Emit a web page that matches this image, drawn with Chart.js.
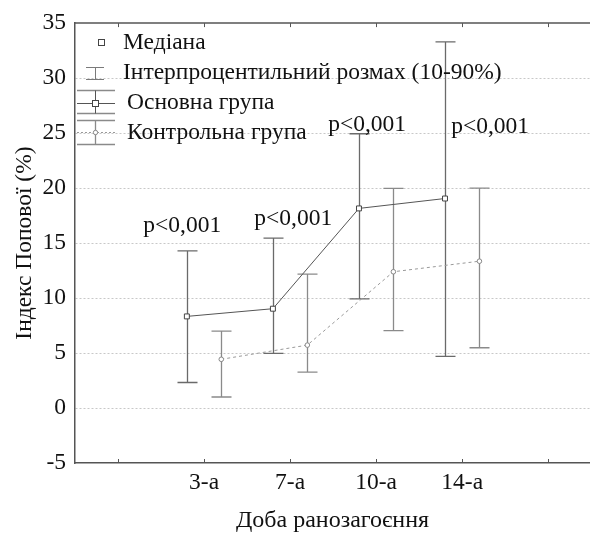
<!DOCTYPE html>
<html lang="uk">
<head>
<meta charset="UTF-8">
<title>Індекс Попової</title>
<script src="https://cdn.jsdelivr.net/npm/chart.js"></script>
<style>
  html, body { margin: 0; padding: 0; background: #fff; overflow: hidden; }
  #wrap { width: 590px; height: 535px; }
</style>
</head>
<body>
<div id="wrap"><canvas id="chart" width="590" height="535"></canvas></div>
<script>
// categories (days) and their positions on the x axis
const categories = ['3-а', '7-а', '10-а', '14-а'];
const catPos = [2, 3, 4, 5];
const xTickValues = [1, 2, 3, 4, 5, 6];
const groupShift = 0.2;

// Основна група: median and 10-90% range
const mainMedian = [8.33, 9.03, 18.15, 19.05];
const mainLow = [2.32, 4.97, 9.93, 4.7];
const mainHigh = [14.28, 15.45, 24.94, 33.3];

// Контрольна група
const ctrlMedian = [4.43, 5.72, 12.39, 13.35];
const ctrlLow = [1.0, 3.26, 7.04, 5.48];
const ctrlHigh = [7.0, 12.18, 19.98, 20.0];

// p-value labels (x, y of text start / baseline in data units)
const pText = ['p<0,001', 'p<0,001', 'p<0,001', 'p<0,001'];
const pX = [1.294, 2.584, 3.443, 4.872];
const pY = [15.99, 16.65, 25.2, 25.05];

const FONT = 'Liberation Serif, Times New Roman, serif';
const FSIZE = 23.5;

const mainPts = catPos.map((c, i) => ({ x: c - groupShift, y: mainMedian[i] }));
const ctrlPts = catPos.map((c, i) => ({ x: c + groupShift, y: ctrlMedian[i] }));

const whiskers = {
  id: 'whiskers',
  beforeDatasetsDraw(chart) {
    const { ctx, scales: { x, y } } = chart;
    const sets = [
      { pts: mainPts, lo: mainLow, hi: mainHigh, color: '#6a6a6a' },
      { pts: ctrlPts, lo: ctrlLow, hi: ctrlHigh, color: '#8a8a8a' }
    ];
    ctx.save();
    ctx.lineWidth = 1.3;
    sets.forEach(s => {
      ctx.strokeStyle = s.color;
      s.pts.forEach((p, i) => {
        const px = Math.round(x.getPixelForValue(p.x)) + 0.5;
        const top = y.getPixelForValue(s.hi[i]);
        const bot = y.getPixelForValue(s.lo[i]);
        ctx.beginPath();
        ctx.moveTo(px, top); ctx.lineTo(px, bot);
        ctx.moveTo(px - 10, top); ctx.lineTo(px + 10, top);
        ctx.moveTo(px - 10, bot); ctx.lineTo(px + 10, bot);
        ctx.stroke();
      });
    });
    ctx.restore();
  },
  afterDraw(chart) {
    const { ctx, chartArea: a, scales: { x, y } } = chart;
    ctx.save();
    // top frame line and tick marks
    ctx.strokeStyle = '#555';
    ctx.lineWidth = 1.5;
    ctx.beginPath();
    ctx.moveTo(a.left, a.top); ctx.lineTo(a.right, a.top);
    ctx.stroke();
    ctx.lineWidth = 1;
    ctx.beginPath();
    xTickValues.forEach(v => {
      const px = Math.round(x.getPixelForValue(v)) + 0.5;
      ctx.moveTo(px, a.top); ctx.lineTo(px, a.top + 4);
      ctx.moveTo(px, a.bottom); ctx.lineTo(px, a.bottom - 4);
    });
    ctx.stroke();

    // p labels
    ctx.fillStyle = '#111';
    ctx.font = FSIZE + 'px ' + FONT;
    ctx.textAlign = 'left';
    ctx.textBaseline = 'alphabetic';
    pText.forEach((t, i) => {
      ctx.fillText(t, x.getPixelForValue(pX[i]), y.getPixelForValue(pY[i]));
    });

    // legend
    ctx.textBaseline = 'middle';
    ctx.fillText('Медіана', 123, 43);
    ctx.fillText('Інтерпроцентильний розмах (10-90%)', 123, 73);
    ctx.fillText('Основна група', 127, 103);
    ctx.fillText('Контрольна група', 127, 133);

    ctx.lineWidth = 1;
    ctx.strokeStyle = '#444';
    ctx.fillStyle = '#fff';
    ctx.fillRect(98.5, 39.5, 6, 6);
    ctx.strokeRect(98.5, 39.5, 6, 6);

    ctx.strokeStyle = '#7a7a7a';
    ctx.beginPath();
    ctx.moveTo(95.5, 67); ctx.lineTo(95.5, 79);
    ctx.moveTo(86, 67.5); ctx.lineTo(104, 67.5);
    ctx.moveTo(86, 79.5); ctx.lineTo(104, 79.5);
    ctx.stroke();

    // main group icon
    ctx.strokeStyle = '#8a8a8a';
    ctx.lineWidth = 1.3;
    ctx.beginPath();
    ctx.moveTo(77, 90.5); ctx.lineTo(115, 90.5);
    ctx.moveTo(77, 113.5); ctx.lineTo(115, 113.5);
    ctx.stroke();
    ctx.strokeStyle = '#555';
    ctx.lineWidth = 1;
    ctx.beginPath();
    ctx.moveTo(95.5, 90.5); ctx.lineTo(95.5, 113.5);
    ctx.moveTo(77, 103.5); ctx.lineTo(115, 103.5);
    ctx.stroke();
    ctx.fillStyle = '#fff';
    ctx.fillRect(92.5, 100.5, 6, 6);
    ctx.strokeStyle = '#444';
    ctx.strokeRect(92.5, 100.5, 6, 6);

    // control group icon
    ctx.strokeStyle = '#8a8a8a';
    ctx.lineWidth = 1.3;
    ctx.beginPath();
    ctx.moveTo(77, 120.5); ctx.lineTo(115, 120.5);
    ctx.moveTo(77, 144.5); ctx.lineTo(115, 144.5);
    ctx.moveTo(95.5, 120.5); ctx.lineTo(95.5, 144.5);
    ctx.stroke();
    ctx.lineWidth = 1;
    ctx.strokeStyle = '#999';
    ctx.setLineDash([2, 2]);
    ctx.beginPath();
    ctx.moveTo(77, 132.5); ctx.lineTo(115, 132.5);
    ctx.stroke();
    ctx.setLineDash([]);
    ctx.beginPath();
    ctx.arc(95.5, 132.5, 2.2, 0, Math.PI * 2);
    ctx.fillStyle = '#fff';
    ctx.fill();
    ctx.strokeStyle = '#888';
    ctx.stroke();
    ctx.restore();
  }
};

new Chart(document.getElementById('chart'), {
  type: 'line',
  data: {
    datasets: [
      {
        label: 'Основна група',
        data: mainPts,
        borderColor: '#555',
        borderWidth: 1,
        pointStyle: 'rect',
        pointRadius: 3.5,
        pointBackgroundColor: '#fff',
        pointBorderColor: '#444',
        pointBorderWidth: 1,
        tension: 0
      },
      {
        label: 'Контрольна група',
        data: ctrlPts,
        borderColor: '#999',
        borderWidth: 1,
        borderDash: [3, 3],
        pointStyle: 'circle',
        pointRadius: 2.3,
        pointBackgroundColor: '#fff',
        pointBorderColor: '#888',
        pointBorderWidth: 1,
        tension: 0
      }
    ]
  },
  options: {
    responsive: false,
    animation: false,
    layout: { autoPadding: false, padding: { top: 19, right: 0, left: 0, bottom: 0 } },
    plugins: { legend: { display: false }, tooltip: { enabled: false } },
    scales: {
      x: {
        type: 'linear',
        min: 0.5,
        max: 6.485,
        afterFit: s => { s.height = 72; s.paddingLeft = 0; s.paddingRight = 0; },
        afterBuildTicks: s => { s.ticks = xTickValues.map(v => ({ value: v })); },
        grid: { display: false, drawTicks: false },
        border: { display: true, color: '#555', width: 1.5 },
        ticks: {
          autoSkip: false,
          maxRotation: 0,
          padding: 6,
          color: '#111',
          font: { family: FONT, size: FSIZE },
          callback: v => {
            const i = catPos.indexOf(v);
            return i >= 0 ? categories[i] : '';
          }
        },
        title: {
          display: true,
          text: 'Доба ранозагоєння',
          color: '#111',
          font: { family: FONT, size: 24 },
          padding: { top: 0, bottom: 0 }
        }
      },
      y: {
        min: -5,
        max: 35,
        afterFit: s => { s.width = 75; },
        grid: {
          drawTicks: false,
          color: c => (c.tick && (c.tick.value === -5 || c.tick.value === 35)) ? 'rgba(0,0,0,0)' : '#c8c8c8'
        },
        border: { display: true, color: '#555', width: 1.5, dash: [2, 2] },
        ticks: {
          stepSize: 5,
          padding: 9,
          color: '#111',
          font: { family: FONT, size: FSIZE }
        },
        title: {
          display: true,
          text: 'Індекс Попової (%)',
          color: '#111',
          font: { family: FONT, size: FSIZE },
          padding: { top: 11, bottom: 0 }
        }
      }
    }
  },
  plugins: [whiskers]
});
</script>
</body>
</html>
